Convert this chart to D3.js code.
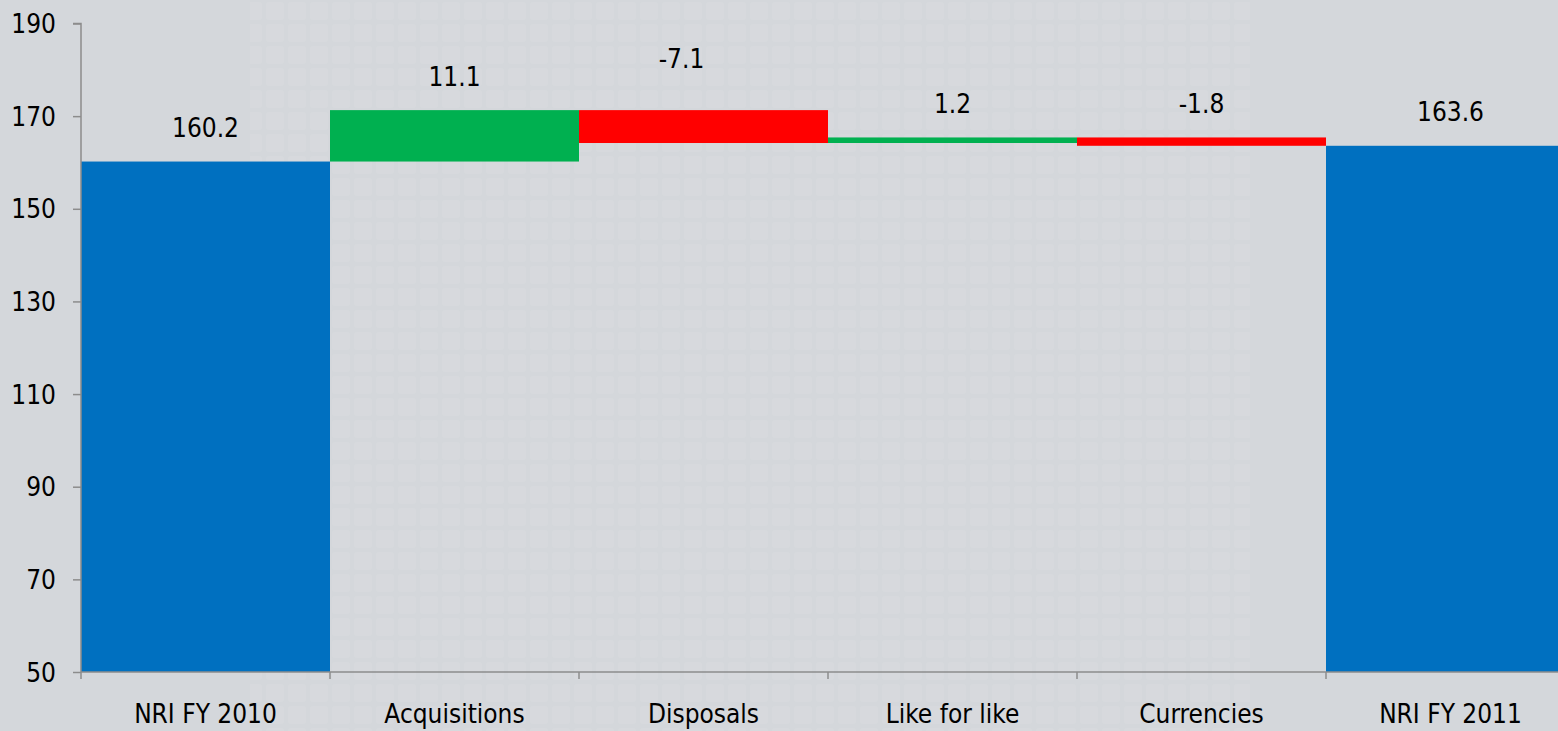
<!DOCTYPE html>
<html>
<head>
<meta charset="utf-8">
<script src="https://cdn.jsdelivr.net/npm/d3@7"></script>
<style>
  html, body { margin: 0; padding: 0; background: #d4d7db; overflow: hidden; }
  svg { display: block; }
  text { font-family: "DejaVu Sans Condensed", "DejaVu Sans", sans-serif; font-stretch: condensed; fill: #000; }
</style>
</head>
<body>
<svg id="chart" width="1558" height="731"></svg>
<script>
// ---- data ----
const categories = ["NRI FY 2010", "Acquisitions", "Disposals", "Like for like", "Currencies", "NRI FY 2011"];
const values = [160.2, 11.1, -7.1, 1.2, -1.8, 163.6];
const kinds = ["total", "delta", "delta", "delta", "delta", "total"];
const yTicks = [50, 70, 90, 110, 130, 150, 170, 190];

// ---- layout ----
const W = 1558, H = 731;
const svg = d3.select("#chart");
const plotLeft = 81, bandStep = 249, plotTop = 23.5, plotBottom = 672;
const fontSize = 26;
const fmt = v => d3.format(".1f")(v).replace("\u2212", "-");

// background with faint square pattern
const defs = svg.append("defs");
const pat = defs.append("pattern").attr("id", "sq").attr("width", 22).attr("height", 22)
  .attr("patternUnits", "userSpaceOnUse");
pat.append("rect").attr("x", 2).attr("y", 2).attr("width", 18).attr("height", 18).attr("rx", 3)
  .attr("fill", "#ffffff").attr("opacity", 0.06);
svg.append("rect").attr("width", W).attr("height", H).attr("fill", "#d4d7db");
svg.append("rect").attr("x", 250).attr("y", 0).attr("width", 1000).attr("height", H).attr("fill", "url(#sq)");

const x = d3.scaleBand().domain(categories).range([plotLeft, plotLeft + bandStep * categories.length]).padding(0);
const y = d3.scaleLinear().domain([50, 190]).range([plotBottom, plotTop]);

// waterfall computation
let running = 0;
const bars = categories.map((c, i) => {
  let lo, hi, color;
  if (kinds[i] === "total") {
    running = values[i];
    lo = 50; hi = values[i]; color = "#0070c0";
  } else {
    const start = running, end = running + values[i];
    lo = Math.min(start, end); hi = Math.max(start, end);
    running = end;
    color = values[i] >= 0 ? "#00b050" : "#ff0000";
  }
  return { c, v: values[i], lo, hi, color, i };
});

svg.append("g").selectAll("rect").data(bars).join("rect")
  .attr("x", d => x(d.c))
  .attr("width", x.bandwidth())
  .attr("y", d => y(d.hi))
  .attr("height", d => y(d.lo) - y(d.hi))
  .attr("fill", d => d.color);

// value labels (the Disposals label sits a little higher and to the left in the original)
const labelNudge = { 2: { dx: -22, lift: 18 } };
svg.append("g").selectAll("text").data(bars).join("text")
  .attr("x", d => x(d.c) + x.bandwidth() / 2 + ((labelNudge[d.i] || {}).dx || 0))
  .attr("y", d => y(d.hi) - 24.5 - ((labelNudge[d.i] || {}).lift || 0))
  .attr("text-anchor", "middle")
  .attr("font-size", fontSize)
  .text(d => fmt(d.v));

// y axis
const yAxis = svg.append("g").attr("transform", `translate(${plotLeft},0)`)
  .call(d3.axisLeft(y).tickValues(yTicks).tickSize(8).tickPadding(17).tickFormat(d3.format("d")));
yAxis.select(".domain").attr("stroke", "#8c8c8c").attr("stroke-width", 1.5).attr("d", `M-8,${y(190)}H0V${y(50)}`);
yAxis.selectAll(".tick line").attr("stroke", "#8c8c8c").attr("stroke-width", 1.5);
yAxis.selectAll(".tick text").attr("font-size", fontSize).attr("dy", "0.35em")
  .style("font-family", '"DejaVu Sans Condensed", "DejaVu Sans", sans-serif');

// x axis
const xAxisG = svg.append("g").attr("transform", `translate(0,${plotBottom})`);
xAxisG.append("line").attr("x1", plotLeft).attr("x2", W).attr("stroke", "#8c8c8c").attr("stroke-width", 1.5);
const tickPos = d3.range(categories.length + 1).map(i => plotLeft + i * bandStep);
xAxisG.selectAll("line.t").data(tickPos).join("line").attr("class", "t")
  .attr("x1", d => d).attr("x2", d => d).attr("y1", 0).attr("y2", 7)
  .attr("stroke", "#8c8c8c").attr("stroke-width", 1.5);
xAxisG.selectAll("text").data(categories).join("text")
  .attr("x", d => x(d) + x.bandwidth() / 2)
  .attr("y", 51)
  .attr("text-anchor", "middle")
  .attr("font-size", fontSize)
  .text(d => d);
</script>
</body>
</html>
